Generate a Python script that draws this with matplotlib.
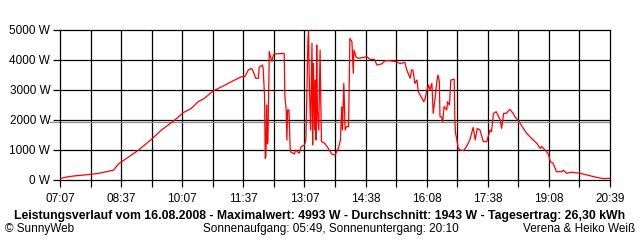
import numpy as np
import pandas as pd
import matplotlib
matplotlib.use('Agg')
import matplotlib.pyplot as plt

plt.rcParams['font.family'] = ['Liberation Sans', 'DejaVu Sans']

# Leistung (W) ueber die Uhrzeit
times = ['07:07', '07:08', '07:19', '07:32', '07:49', '08:04', '08:26', '08:33', '09:03', '09:22',
         '09:37', '09:55', '10:09', '10:21', '10:31', '10:40', '10:53', '11:08', '11:23', '11:35',
         '11:40', '11:45', '11:50', '11:53', '11:56', '12:00', '12:01', '12:06', '12:07', '12:09',
         '12:10', '12:11', '12:12', '12:13', '12:14', '12:15', '12:16', '12:17', '12:20', '12:21',
         '12:23', '12:38', '12:39', '12:41', '12:42', '12:43', '12:45', '12:47', '12:53', '12:55',
         '13:00', '13:03', '13:08', '13:10', '13:11', '13:13', '13:14', '13:15', '13:17', '13:19',
         '13:20', '13:21', '13:23', '13:24', '13:25', '13:26', '13:27', '13:29', '13:31', '13:32',
         '13:33', '13:38', '13:43', '13:48', '13:53', '13:58', '14:01', '14:03', '14:04', '14:06',
         '14:08', '14:10', '14:13', '14:14', '14:15', '14:18', '14:20', '14:21', '14:24', '14:27',
         '14:35', '14:40', '14:45', '14:51', '14:55', '15:02', '15:07', '15:14', '15:24', '15:29',
         '15:34', '15:36', '15:39', '15:44', '15:46', '15:48', '15:51', '15:54', '15:56', '16:00',
         '16:04', '16:06', '16:08', '16:11', '16:13', '16:16', '16:18', '16:21', '16:23', '16:25',
         '16:27', '16:28', '16:30', '16:32', '16:34', '16:38', '16:39', '16:42', '16:44', '16:49',
         '16:50', '16:51', '16:53', '16:55', '16:58', '17:03', '17:07', '17:12', '17:17', '17:20',
         '17:23', '17:27', '17:32', '17:37', '17:42', '17:44', '17:47', '17:51', '17:57', '17:59',
         '18:02', '18:06', '18:11', '18:16', '18:19', '18:24', '18:31', '18:36', '18:43', '18:51',
         '18:56', '18:58', '19:03', '19:08', '19:11', '19:15', '19:20', '19:28', '19:30', '19:35',
         '19:42', '19:55', '20:05', '20:19', '20:29', '20:38']
power = [40, 50, 110, 145, 180, 220, 330, 530, 1000, 1355,
         1670, 1970, 2245, 2390, 2610, 2720, 2967, 3133, 3310, 3445,
         3445, 3667, 3720, 3577, 3390, 3390, 3755, 3833, 3700, 2780,
         722, 800, 2500, 1200, 1300, 2890, 4277, 4170, 3950, 4070,
         4200, 4220, 2780, 2333, 1330, 2333, 2333, 945, 867, 1000,
         890, 1110, 1167, 1333, 2333, 4667, 4993, 3333, 1667, 4557,
         1167, 3890, 1667, 3333, 1333, 4500, 2333, 1667, 4333, 2667,
         1280, 1220, 1055, 867, 833, 1055, 1333, 2443, 1667, 3220,
         1667, 1777, 1777, 3333, 4722, 4610, 3555, 4333, 4110, 4055,
         4090, 4110, 4020, 4020, 3833, 3870, 3977, 3977, 3943, 3880,
         3910, 3923, 3667, 3390, 3667, 3667, 3220, 3333, 2943, 2777,
         2610, 2700, 2943, 3167, 3000, 3220, 2223, 2777, 3220, 3500,
         3300, 2110, 2110, 1943, 2450, 2333, 2610, 2500, 3333, 3360,
         1943, 1555, 1333, 1055, 1000, 980, 1110, 1333, 1755, 1333,
         1722, 1667, 1277, 1277, 1667, 1610, 2223, 2277, 2000, 1722,
         2223, 2223, 2357, 2223, 2090, 1977, 1722, 1555, 1390, 1222,
         1055, 1120, 1000, 867, 610, 560, 277, 277, 330, 222,
         260, 222, 167, 90, 45, 55]

average = 1943
tick_labels = ['07:07', '08:37', '10:07', '11:37', '13:07', '14:38', '16:08', '17:38', '19:08', '20:39']
y_ticks = [0, 1000, 2000, 3000, 4000, 5000]

df = pd.DataFrame({'time': times, 'power': power})
t = pd.to_datetime(df['time'], format='%H:%M')
df['minute'] = t.dt.hour * 60 + t.dt.minute

start = 7 * 60 + 7
end = 20 * 60 + 39

fig = plt.figure(figsize=(6.4, 2.4), dpi=100)
ax = fig.add_axes([60 / 640, 60 / 240, 550 / 640, 150 / 240])

ax.set_xlim(start, end)
ax.set_ylim(0, 5000)

# Gitter: 18 Intervalle auf der Zeitachse, jede zweite Linie beschriftet
xgrid = np.linspace(start, end, 19)
for xg in xgrid[1:-1]:
    ax.axvline(xg, color='black', lw=0.9, zorder=1)
for yg in y_ticks[1:-1]:
    ax.axhline(yg, color='black', lw=0.9, zorder=1)
ax.axhline(average, color='#8c8c8c', lw=0.9, zorder=1, xmin=-10 / 550, clip_on=False)

ax.plot(df['minute'], df['power'], color='#ff0000', lw=0.9, zorder=3)

xlabels = [''] * 19
xlabels[::2] = tick_labels
ax.set_xticks(xgrid)
ax.set_xticklabels(xlabels)
ax.set_yticks(y_ticks)
ax.set_yticklabels(['%d W' % v for v in y_ticks])
ax.tick_params(axis='both', length=5, width=0.9, color='black', labelsize=8.5, pad=2)
ax.tick_params(axis='x', pad=4)
for s in ax.spines.values():
    s.set_linewidth(0.9)
    s.set_color('black')

fig.text(320 / 640, 1 - 216 / 240,
         'Leistungsverlauf vom 16.08.2008 - Maximalwert: 4993 W - Durchschnitt: 1943 W - Tagesertrag: 26,30 kWh',
         ha='center', va='center', fontsize=8.8, fontweight='bold')
fig.text(5 / 640, 1 - 229 / 240, '\u00a9 SunnyWeb', ha='left', va='center', fontsize=8.5)
fig.text(203 / 640, 1 - 229 / 240, 'Sonnenaufgang: 05:49, Sonnenuntergang: 20:10',
         ha='left', va='center', fontsize=8.5)
fig.text(635 / 640, 1 - 229 / 240, 'Verena & Heiko Wei\u00df', ha='right', va='center', fontsize=8.5)

plt.savefig('out.png', dpi=100)
